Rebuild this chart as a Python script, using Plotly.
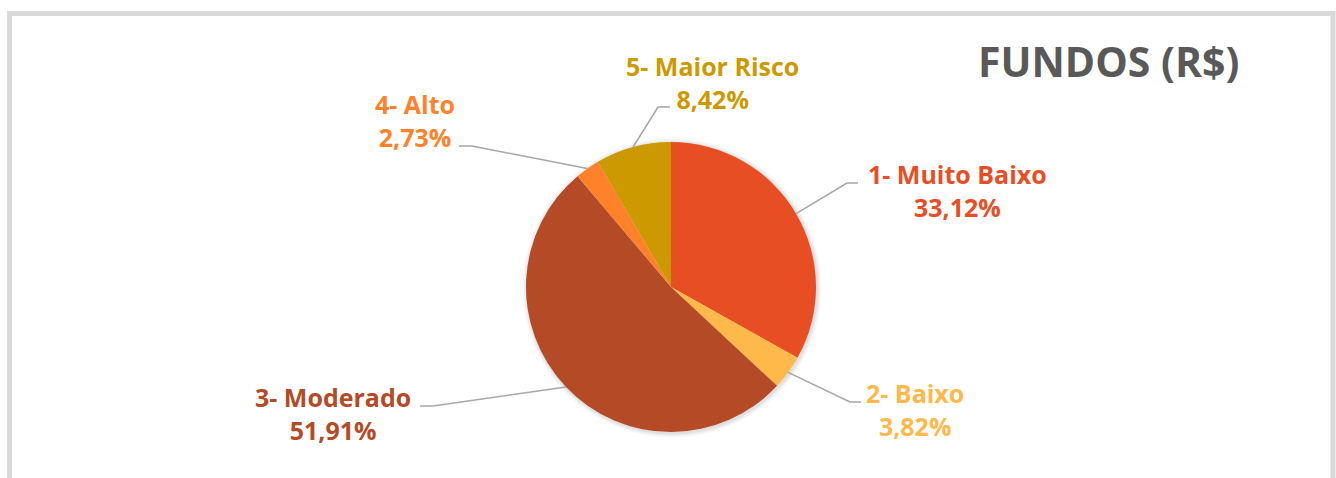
import math
import plotly.graph_objects as go

# ---- data ----
categories = ["1- Muito Baixo", "2- Baixo", "3- Moderado", "4- Alto", "5- Maior Risco"]
values = [33.12, 3.82, 51.91, 2.73, 8.42]
value_labels = ["33,12%", "3,82%", "51,91%", "2,73%", "8,42%"]
colors = ["#E84E23", "#FFB84A", "#B44A26", "#FF812A", "#CC9900"]
title_text = "FUNDOS (R$)"

# ---- layout / styling (pixels) ----
W, H = 1336, 478
cx, cy, R = 671, 287, 145
# label block centers and leader elbow points (styling positions)
label_pos = [(957, 190), (915, 409), (333, 413), (415, 120), (712, 82)]
elbows = [((847, 183), (858, 183)),
          ((850, 402), (861, 402)),
          ((433, 406), (420, 406)),
          ((472, 146), (459, 146)),
          ((658, 107), (670, 107))]

FONT = "Open Sans"

fig = go.Figure()
fig.add_trace(go.Pie(
    labels=categories, values=values, sort=False, direction="clockwise",
    rotation=0, marker=dict(colors=colors, line=dict(width=0)),
    textinfo="none", hoverinfo="label+percent", showlegend=False,
    domain=dict(x=[(cx - R) / W, (cx + R) / W], y=[(H - cy - R) / H, (H - cy + R) / H]),
))

shapes = []
# frame
shapes.append(dict(type="rect", xref="x", yref="y", x0=9.5, x1=1333, y0=13.5, y1=495,
                   line=dict(color="#D9D9D9", width=5), fillcolor="rgba(0,0,0,0)", layer="below"))
# soft shadow rings
for i, a in enumerate([0.05, 0.04, 0.03]):
    r = R + 1.5 + i * 1.5
    shapes.append(dict(type="circle", xref="x", yref="y", x0=cx - r + 1, x1=cx + r + 1,
                       y0=cy - r + 1, y1=cy + r + 1, line=dict(width=0),
                       fillcolor=f"rgba(0,0,0,{a})", layer="below"))

total = sum(values)
cum = 0
annotations = []
for i, v in enumerate(values):
    mid = (cum + v / 2) / total * 2 * math.pi
    cum += v
    ex = cx + R * math.sin(mid)
    ey = cy - R * math.cos(mid)
    (e1x, e1y), (e2x, e2y) = elbows[i]
    shapes.append(dict(type="path", xref="x", yref="y",
                       path=f"M {ex:.1f},{ey:.1f} L {e1x},{e1y} L {e2x},{e2y}",
                       line=dict(color="#A6A6A6", width=1.5)))
    lx, ly = label_pos[i]
    annotations.append(dict(x=lx, y=ly, xref="x", yref="y", showarrow=False,
                            text=f"<b>{categories[i]}<br>{value_labels[i]}</b>",
                            align="center", xanchor="center", yanchor="middle",
                            font=dict(family=FONT, size=25, color=colors[i])))

annotations.append(dict(x=1108, y=61, xref="x", yref="y", showarrow=False,
                        text=f"<b>{title_text}</b>", xanchor="center", yanchor="middle",
                        font=dict(family=FONT, size=41, color="#595959")))

fig.update_layout(
    width=W, height=H, margin=dict(l=0, r=0, t=0, b=0),
    paper_bgcolor="white", plot_bgcolor="white",
    xaxis=dict(range=[0, W], visible=False, fixedrange=True, domain=[0, 1]),
    yaxis=dict(range=[H, 0], visible=False, fixedrange=True, domain=[0, 1]),
    shapes=shapes, annotations=annotations,
)
fig.write_html("out.html", config={"displayModeBar": False},
               post_script="document.body.style.margin='0';document.body.style.overflow='hidden';")
